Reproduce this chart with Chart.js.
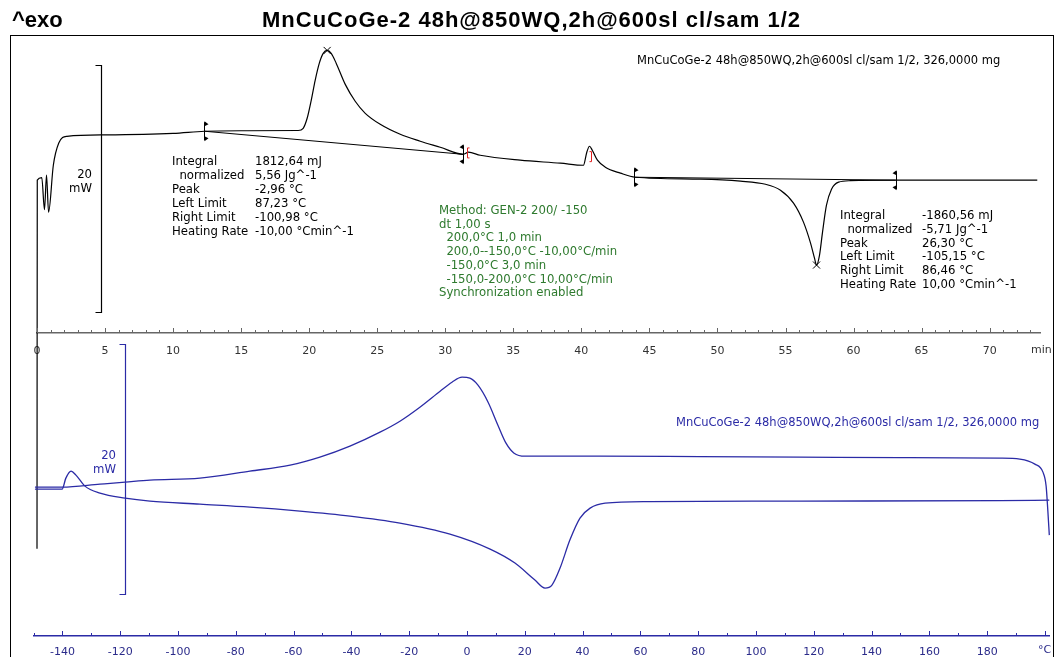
<!DOCTYPE html>
<html>
<head>
<meta charset="utf-8">
<script src="https://cdn.jsdelivr.net/npm/chart.js@4.4.1/dist/chart.umd.min.js"></script>
<style>
  body { margin: 0; background: #fff; }
  #wrap { position: relative; width: 1056px; height: 657px; overflow: hidden; font-family: "DejaVu Sans", sans-serif; }
  canvas { position: absolute; left: 0; }
  #frame { position: absolute; left: 10px; top: 35px; width: 1042px; height: 640px; border: 1px solid #000; }
  .t { position: absolute; white-space: pre; font-size: 11.7px; line-height: 14px; color: #000; }
  .big { position: absolute; font-family: "Liberation Sans", Arial, sans-serif; font-weight: bold; font-size: 22px; line-height: 26px; white-space: pre; }
</style>
</head>
<body>
<div id="wrap">
  <div id="frame"></div>
  <canvas id="topChart" width="1056" height="657" style="top:0"></canvas>
  <canvas id="botChart" width="1056" height="317" style="top:340px"></canvas>

  <div class="big" style="left:12px;top:7px;">^exo</div>
  <div class="big" style="left:262px;top:7px;letter-spacing:1px;">MnCuCoGe-2 48h@850WQ,2h@600sl cl/sam 1/2</div>

  <div class="t" style="left:637px;top:53px;font-size:11.5px;">MnCuCoGe-2 48h@850WQ,2h@600sl cl/sam 1/2, 326,0000 mg</div>
  <div class="t" style="left:676px;top:415px;font-size:11.5px;color:#2b2ba6;">MnCuCoGe-2 48h@850WQ,2h@600sl cl/sam 1/2, 326,0000 mg</div>

  <div class="t" style="left:60px;top:167px;width:32px;text-align:right;">20
mW</div>
  <div class="t" style="left:84px;top:448px;width:32px;text-align:right;color:#2b2ba6;">20
mW</div>

  <div class="t" style="left:172px;top:154px;">Integral
  normalized
Peak
Left Limit
Right Limit
Heating Rate</div>
  <div class="t" style="left:255px;top:154px;">1812,64 mJ
5,56 Jg^-1
-2,96 °C
87,23 °C
-100,98 °C
-10,00 °Cmin^-1</div>

  <div class="t" style="left:840px;top:209px;line-height:13.8px;">Integral
  normalized
Peak
Left Limit
Right Limit
Heating Rate</div>
  <div class="t" style="left:922px;top:209px;line-height:13.8px;">-1860,56 mJ
-5,71 Jg^-1
26,30 °C
-105,15 °C
86,46 °C
10,00 °Cmin^-1</div>

  <div class="t" style="left:439px;top:204px;line-height:13.7px;color:#2e7a2e;">Method: GEN-2 200/ -150
dt 1,00 s
  200,0°C 1,0 min
  200,0--150,0°C -10,00°C/min
  -150,0°C 3,0 min
  -150,0-200,0°C 10,00°C/min
Synchronization enabled</div>

  <div class="t" style="left:1031px;top:343px;color:#333;font-size:11px;">min</div>
  <div class="t" style="left:1038px;top:643px;color:#2b2b8a;font-size:11px;">°C</div>
</div>

<script>
// upper plot: heat flow (mW) vs time (min)
const runMin = [0, 0.02, 0.35, 0.55, 0.7, 0.85, 1.2, 1.6, 2.2, 5, 10, 12.3, 15, 19.19, 19.56, 19.85, 20.15, 20.44, 20.74, 21.03,
  21.32, 21.62, 21.99, 22.65, 23.38, 24.12, 25.22, 26.69, 28.16, 29.63, 31.32, 31.7, 32.57, 35.5, 38.46, 40.15, 40.4, 40.6, 40.8, 41.18,
  41.76, 42.87, 43.97, 48.75, 51.69, 53.53, 54.63, 55.59, 56.32, 56.84, 57.13, 57.28, 57.5, 57.72, 58.01, 58.38, 58.9, 59.78, 63.1, 70.8, 73.5];
const runMW = [-17.5, 12.4, 12.6, 10.0, 12.8, 9.8, 13.6, 15.4, 15.95, 16.07, 16.19, 16.36, 16.40, 16.42, 16.60, 17.41, 18.87, 20.49, 21.86, 22.67,
  22.91, 22.67, 21.86, 20.16, 18.79, 17.81, 16.92, 16.11, 15.55, 15.06, 14.49, 14.66, 14.41, 14.01, 13.77, 13.60, 14.66, 15.14, 14.82, 14.01,
  13.44, 12.96, 12.63, 12.47, 12.31, 12.06, 11.58, 10.53, 8.99, 7.29, 6.07, 5.51, 6.32, 8.18, 10.36, 11.66, 12.23, 12.35, 12.39, 12.39, 12.39];

const peakMin = [21.32, 57.28];
const peakMW = [22.91, 5.51];
const limMin = [12.3, 31.3, 43.9, 63.1];
const limMW = [16.36, 14.49, 12.63, 12.39];
const limDir = [1, -1, 1, -1];
const bracketMin = [31.6, 40.7];
const bracketMW = [14.6, 14.3];

// lower plot: heat flow (mW) vs temperature (°C)
const coolT = [-149.5, -140.1, -127, -118.3, -109.7, -92.4, -75.1, -61.2, -50.9, -40.5, -30.1, -23.2, -16.3, -9.3, -5.2, -1.7, 1.0, 3.8, 7.3, 10.7,
  13.5, 16.3, 20.1, 46, 80.6, 115.2, 149.8, 184.4, 191.3, 196.5, 199.3, 200.4, 201.0, 201.5];
const coolMW = [11.92, 11.92, 12.16, 12.32, 12.48, 12.64, 13.2, 13.68, 14.32, 15.2, 16.32, 17.2, 18.32, 19.6, 20.32, 20.72, 20.64, 20.08, 18.72, 16.88,
  15.44, 14.64, 14.40, 14.40, 14.36, 14.32, 14.28, 14.24, 14.16, 13.76, 13.12, 12.0, 10.0, 8.08];
const heatT = [-149.5, -140.1, -138.8, -137, -135.3, -132.2, -127, -118.3, -109.7, -92.4, -75.1, -57.8, -40.5, -23.2, -5.9, 8.0, 16.6, 23.5, 27, 29.4,
  32.2, 35.6, 39.1, 42.6, 47.8, 63.3, 115.2, 184.4, 201.5];
const heatMW = [11.76, 11.76, 12.64, 13.20, 12.88, 12.00, 11.44, 11.04, 10.80, 10.56, 10.32, 10.00, 9.60, 9.04, 8.16, 6.96, 5.84, 4.48, 3.84, 4.08,
  5.44, 7.68, 9.44, 10.24, 10.64, 10.76, 10.80, 10.84, 10.88];

// 20 mW scale bars (x value where the bar stands, lower end in mW)
const barTop = { at: 4.7, from: 1.7, span: 20 };
const barBot = { at: -118.2, from: 3.36, span: 20 };

const BLUE = '#2b2ba6';
const pts = (xs, ys) => xs.map((v, i) => ({ x: v, y: ys[i] }));

// ticks pointing up from the axis line, like the original
function axisTicks(color, minor, major) {
  return {
    id: 'axisTicks',
    afterDraw(chart) {
      const { ctx, scales: { x }, chartArea } = chart;
      ctx.save();
      ctx.strokeStyle = color;
      ctx.lineWidth = 1;
      for (let v = x.min; v <= x.max + 1e-6; v += minor) {
        const val = Math.round(v * 100) / 100;
        const px = Math.round(x.getPixelForValue(val)) + 0.5;
        const len = (Math.abs(val % major) < 1e-6) ? 5 : 3;
        ctx.beginPath();
        ctx.moveTo(px, chartArea.bottom);
        ctx.lineTo(px, chartArea.bottom - len);
        ctx.stroke();
      }
      ctx.restore();
    }
  };
}

function scaleBar(bar, color) {
  return {
    id: 'scaleBar',
    afterDraw(chart) {
      const { ctx, scales: { x, y } } = chart;
      const px = Math.round(x.getPixelForValue(bar.at)) + 0.5;
      const y0 = Math.round(y.getPixelForValue(bar.from)) + 0.5;
      const y1 = Math.round(y.getPixelForValue(bar.from + bar.span)) + 0.5;
      ctx.save();
      ctx.strokeStyle = color;
      ctx.lineWidth = 1.2;
      ctx.beginPath();
      ctx.moveTo(px - 6, y1); ctx.lineTo(px, y1); ctx.lineTo(px, y0); ctx.lineTo(px - 6, y0);
      ctx.stroke();
      ctx.restore();
    }
  };
}

const limitMarks = {
  id: 'limitMarks',
  afterDatasetsDraw(chart) {
    const { ctx, scales: { x, y } } = chart;
    ctx.save();
    ctx.fillStyle = '#000';
    ctx.strokeStyle = '#000';
    ctx.lineWidth = 1;
    limMin.forEach((t, i) => {
      const px = Math.round(x.getPixelForValue(t)) + 0.5;
      const py = y.getPixelForValue(limMW[i]);
      const d = limDir[i];
      ctx.beginPath(); ctx.moveTo(px, py - 9); ctx.lineTo(px, py + 9); ctx.stroke();
      ctx.beginPath(); ctx.moveTo(px, py - 10); ctx.lineTo(px + 4 * d, py - 7); ctx.lineTo(px, py - 5); ctx.closePath(); ctx.fill();
      ctx.beginPath(); ctx.moveTo(px, py + 5); ctx.lineTo(px + 4 * d, py + 7); ctx.lineTo(px, py + 10); ctx.closePath(); ctx.fill();
    });
    ctx.strokeStyle = '#e02020';
    bracketMin.forEach((t, i) => {
      const px = Math.round(x.getPixelForValue(t)) + 0.5;
      const py = y.getPixelForValue(bracketMW[i]);
      const d = i === 0 ? 1 : -1;
      ctx.beginPath();
      ctx.moveTo(px + 2 * d, py - 5); ctx.lineTo(px, py - 5); ctx.lineTo(px, py + 5); ctx.lineTo(px + 2 * d, py + 5);
      ctx.stroke();
    });
    ctx.restore();
  }
};

const tickFont = { family: 'DejaVu Sans', size: 11 };

new Chart(document.getElementById('topChart'), {
  type: 'scatter',
  data: {
    datasets: [
      { data: pts(runMin, runMW), showLine: true, borderColor: '#000', borderWidth: 1.2, pointRadius: 0,
        cubicInterpolationMode: 'monotone', clip: false },
      { data: pts(limMin.slice(0, 2), limMW.slice(0, 2)), showLine: true, borderColor: '#000', borderWidth: 1, pointRadius: 0 },
      { data: pts(limMin.slice(2, 4), limMW.slice(2, 4)), showLine: true, borderColor: '#000', borderWidth: 1, pointRadius: 0 },
      { data: pts(peakMin, peakMW), showLine: false, pointStyle: 'crossRot', pointRadius: 5, borderColor: '#000', borderWidth: 1 }
    ]
  },
  options: {
    animation: false,
    responsive: false,
    layout: { padding: { left: 37, right: 16, top: 37, bottom: 292 } },
    plugins: { legend: { display: false }, tooltip: { enabled: false } },
    scales: {
      x: {
        type: 'linear', min: 0, max: 73.7,
        afterFit(s) { s.height = 32; },
        grid: { display: false },
        border: { display: true, color: '#666', width: 1.5 },
        ticks: {
          stepSize: 1, autoSkip: false, maxRotation: 0, padding: 4, color: '#333', font: tickFont,
          callback: v => (Math.abs(v % 5) < 1e-6 ? String(v) : '')
        }
      },
      y: { display: false, min: 0, max: 24 }
    }
  },
  plugins: [axisTicks('#666', 1, 5), scaleBar(barTop, '#000'), limitMarks]
});

new Chart(document.getElementById('botChart'), {
  type: 'scatter',
  data: {
    datasets: [
      { data: pts(coolT, coolMW), showLine: true, borderColor: BLUE, borderWidth: 1.3, pointRadius: 0,
        cubicInterpolationMode: 'monotone', clip: false },
      { data: pts(heatT, heatMW), showLine: true, borderColor: BLUE, borderWidth: 1.3, pointRadius: 0,
        cubicInterpolationMode: 'monotone', clip: false }
    ]
  },
  options: {
    animation: false,
    responsive: false,
    layout: { padding: { left: 33.5, right: 6.4, top: 5, bottom: 0 } },
    plugins: { legend: { display: false }, tooltip: { enabled: false } },
    scales: {
      x: {
        type: 'linear', min: -150, max: 201.6,
        afterFit(s) { s.height = 21; },
        grid: { display: false },
        border: { display: true, color: BLUE, width: 1.5 },
        ticks: {
          stepSize: 10, autoSkip: false, maxRotation: 0, padding: 2, color: '#2b2b8a', font: tickFont,
          callback: v => (Math.abs(v % 20) < 1e-6 && v > -150 && v < 200 ? String(v) : '')
        }
      },
      y: { display: false, min: 0, max: 23.3 }
    }
  },
  plugins: [axisTicks(BLUE, 10, 20), scaleBar(barBot, BLUE)]
});
</script>
</body>
</html>
